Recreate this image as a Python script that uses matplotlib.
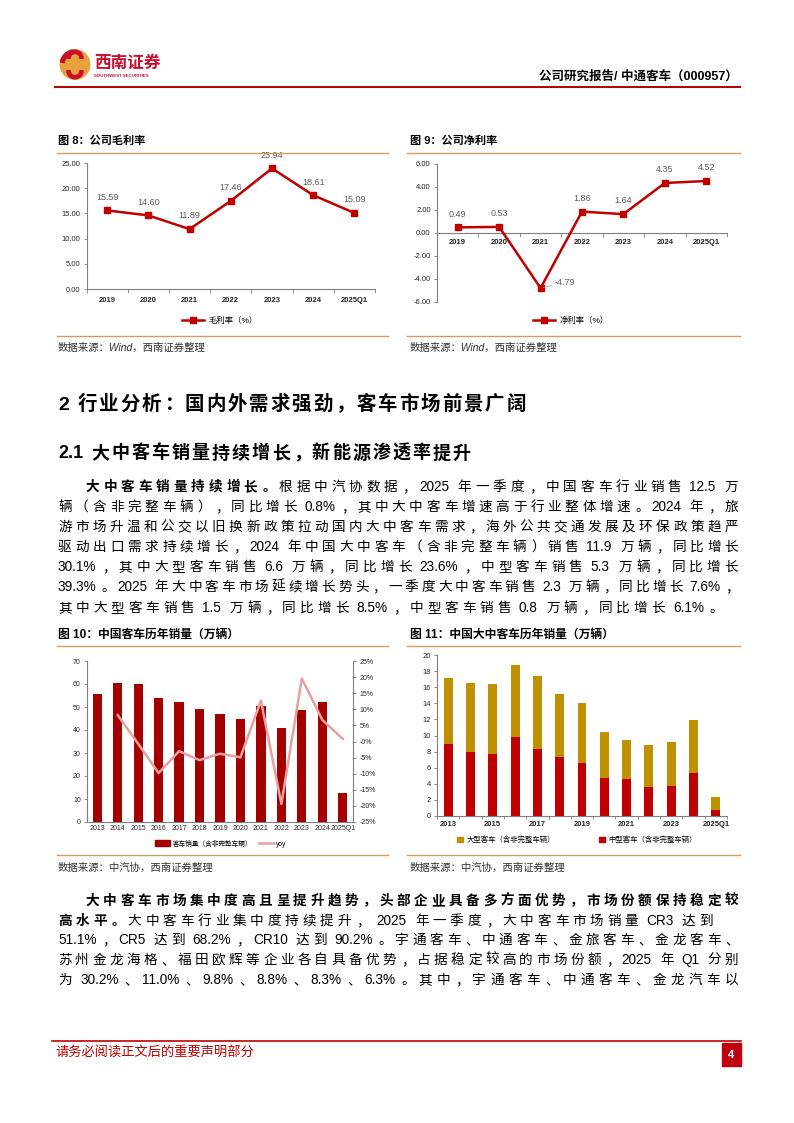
import re
import numpy as np
import matplotlib
matplotlib.use('Agg')
import matplotlib.pyplot as plt
from matplotlib.lines import Line2D
from matplotlib.patches import Rectangle, Circle, Wedge, Patch
from matplotlib.ticker import FuncFormatter

plt.rcParams['font.family'] = ['Liberation Sans', 'Noto Sans CJK SC']
plt.rcParams['axes.unicode_minus'] = False

# ---- data ----
years_a = ['2019', '2020', '2021', '2022', '2023', '2024', '2025Q1']
gross_margin = [15.59, 14.60, 11.89, 17.46, 23.94, 18.61, 15.09]
net_margin = [0.49, 0.53, -4.79, 1.86, 1.64, 4.35, 4.52]

years_b = ['2013', '2014', '2015', '2016', '2017', '2018', '2019', '2020',
           '2021', '2022', '2023', '2024', '2025Q1']
bus_sales = [55.6, 60.4, 60.0, 53.9, 52.1, 49.1, 46.9, 44.7, 50.4, 40.8, 48.6, 52.1, 12.5]
bus_yoy = [None, 0.082, -0.007, -0.098, -0.030, -0.058, -0.038, -0.049,
           0.127, -0.194, 0.196, 0.067, 0.008]
large_bus = [8.2, 8.5, 8.7, 9.0, 9.1, 7.9, 7.4, 5.7, 4.8, 5.2, 5.5, 6.6, 1.5]
mid_bus = [8.9, 8.0, 7.7, 9.8, 8.3, 7.3, 6.6, 4.7, 4.6, 3.6, 3.7, 5.3, 0.8]

RED = '#C00000'
DARKRED = '#A50000'
GOLD = '#BF9000'
PINK = '#E8A0A0'
TAN = '#C9A063'
GRAY = '#7F7F7F'

W, H = 794, 1123
fig = plt.figure(figsize=(W / 100, H / 100), dpi=100)
renderer = fig.canvas.get_renderer()


def fx(x):
    return x / W


def fy(y):
    return 1 - y / H


def hline(x0, x1, y, color, lw):
    fig.add_artist(Line2D([fx(x0), fx(x1)], [fy(y), fy(y)],
                          transform=fig.transFigure, color=color, lw=lw))


def put(x, y, s, **kw):
    kw.setdefault('va', 'center')
    return fig.text(fx(x), fy(y), s, **kw)


def add_axes(l, t, r, b):
    return fig.add_axes([fx(l), fy(b), (r - l) / W, (b - t) / H])


# justified text line, one token per CJK char
P_LEFT = '，。、：；）'
P_RIGHT = '（'


def text_line(y, x0, parts, size, x1=None, gap=None, color='#000000'):
    em = size * 100 / 72
    yb = y + 0.36 * em
    items = []
    for s, bold in parts:
        wt = 'bold' if bold else 'normal'
        for t in re.findall(r'[0-9A-Za-z.%/]+| |.', s):
            if t == ' ':
                items.append((' ', em * 0.3, wt))
            elif ord(t[0]) < 128:
                a = put(0, yb, t, fontsize=size, fontweight=wt, color=color,
                        ha='left', va='baseline')
                items.append((a, a.get_window_extent(renderer).width + em * 0.04, wt))
            else:
                items.append((t, em, wt))
    total = sum(w for _, w, _ in items)
    n_gaps = sum(1 for it, _, _ in items if not (isinstance(it, str) and it == ' ')) - 1
    if gap is None:
        gap = (x1 - x0 - total) / n_gaps
    x = x0
    for it, w, wt in items:
        kw = dict(fontsize=size, fontweight=wt, color=color, va='baseline')
        if isinstance(it, str) and it == ' ':
            x += w
            continue
        if isinstance(it, str):
            if it in P_RIGHT:
                put(x + w * 0.95, yb, it, ha='right', **kw)
            elif it in P_LEFT:
                put(x + w * 0.08, yb, it, ha='left', **kw)
            else:
                put(x + w / 2, yb, it, ha='center', **kw)
        else:
            it.set_x(fx(x))
        x += w + gap
    return gap


# ---- header ----
lax = add_axes(59, 49, 91, 80)
lax.set_xlim(-1.05, 1.05)
lax.set_ylim(-1.05, 1.05)
lax.set_aspect('equal')
lax.axis('off')
lax.add_patch(Circle((0, 0), 1, color='#E6A23C'))
lax.add_patch(Wedge((0.0, 0.42), 0.55, 0, 180, width=0.22, color='#C8102E'))
lax.add_patch(Wedge((0.0, -0.42), 0.55, 180, 360, width=0.22, color='#C8102E'))
lax.add_patch(Wedge((0, 0), 1, 100, 170, width=0.25, color='#C8102E'))
put(94, 63, '西南证券', fontsize=12, fontweight='bold', color='#C8102E', ha='left')
put(94, 76, 'SOUTHWEST SECURITIES', fontsize=3.2, fontweight='bold', color='#C8102E', ha='left')
put(738, 77, '公司研究报告/ 中通客车（000957）', fontsize=9, fontweight='bold', ha='right')
hline(55, 740, 87, '#B00000', 1.4)

# ---- captions / frames ----
put(58, 141, '图 8：公司毛利率', fontsize=8, fontweight='bold', ha='left')
put(410, 141, '图 9：公司净利率', fontsize=8, fontweight='bold', ha='left')
for y in (153, 336):
    hline(57, 388, y, TAN, 1.0)
    hline(407, 740, y, TAN, 1.0)
put(58, 348, '数据来源：Wind，西南证券整理', fontsize=7.5, style='italic', color='#333333', ha='left')
put(410, 348, '数据来源：Wind，西南证券整理', fontsize=7.5, style='italic', color='#333333', ha='left')


def style_cat(ax, labels, pad):
    n = len(labels)
    ax.set_xlim(-0.5, n - 0.5)
    for s in ('top', 'right'):
        ax.spines[s].set_visible(False)
    for s in ('left', 'bottom'):
        ax.spines[s].set_color(GRAY)
        ax.spines[s].set_linewidth(0.8)
    ax.set_xticks(np.arange(n))
    ax.set_xticklabels(labels, fontsize=5.5, fontweight='bold', color='#262626')
    ax.set_xticks(np.arange(-0.5, n, 1), minor=True)
    ax.tick_params(axis='x', which='major', length=0, pad=pad)
    ax.tick_params(axis='x', which='minor', length=3, width=0.6, color=GRAY, direction='out')
    ax.tick_params(axis='y', length=2.5, width=0.6, color=GRAY, labelsize=5.5,
                   labelcolor='#262626', pad=2)


# ---- fig 8: gross margin ----
ax1 = add_axes(86.5, 163, 375, 289)
xa = np.arange(len(years_a))
ax1.plot(xa, gross_margin, color=RED, lw=1.8, marker='s', ms=3.8, zorder=3)
for i, v in enumerate(gross_margin):
    ax1.annotate(f'{v:.2f}', (i, v), xytext=(0, 9.5), textcoords='offset points',
                 ha='center', va='center', fontsize=6.5, color='#595959')
ax1.set_ylim(0, 25)
ax1.set_yticks(np.arange(0, 26, 5))
ax1.yaxis.set_major_formatter(FuncFormatter(lambda v, p: f'{v:.2f}'))
style_cat(ax1, years_a, 6)
fig.legend(handles=[Line2D([], [], color=RED, lw=1.8, marker='s', ms=3.8)],
           labels=['毛利率（%）'], loc='center', bbox_to_anchor=(fx(220), fy(321)),
           frameon=False, fontsize=6, handlelength=2.6, handletextpad=0.5,
           borderpad=0, borderaxespad=0)

# ---- fig 9: net margin ----
ax2 = add_axes(437, 164, 727, 302)
ax2.spines['bottom'].set_position(('data', 0))
ax2.plot(xa, net_margin, color=RED, lw=1.8, marker='s', ms=3.8, zorder=3)
for i, v in enumerate(net_margin):
    if v < 0:
        ax2.annotate(f'{v:.2f}', (i, v), xytext=(10, 4), textcoords='offset points',
                     ha='left', va='center', fontsize=6.5, color='#595959',
                     arrowprops=dict(arrowstyle='-', color='#A6A6A6', lw=0.5,
                                     shrinkA=0, shrinkB=2))
    else:
        ax2.annotate(f'{v:.2f}', (i, v), xytext=(0, 9.5), textcoords='offset points',
                     ha='center', va='center', fontsize=6.5, color='#595959')
ax2.set_ylim(-6, 6)
ax2.set_yticks(np.arange(-6, 7, 2))
ax2.yaxis.set_major_formatter(FuncFormatter(lambda v, p: f'{v:.2f}'))
style_cat(ax2, years_a, 4.5)
fig.legend(handles=[Line2D([], [], color=RED, lw=1.8, marker='s', ms=3.8)],
           labels=['净利率（%）'], loc='center', bbox_to_anchor=(fx(571), fy(321)),
           frameon=False, fontsize=6, handlelength=2.6, handletextpad=0.5,
           borderpad=0, borderaxespad=0)

# ---- section text ----
text_line(403, 58, [('2 行业分析：国内外需求强劲，客车市场前景广阔', True)], 14, gap=2.0)
text_line(452, 58, [('2.1 大中客车销量持续增长，新能源渗透率提升', True)], 13, gap=2.0)

BODY = 9.8
X1 = 738
ys = [486, 506, 526, 546, 566, 586, 607]
g = text_line(ys[0], 86, [('大中客车销量持续增长。', True),
                          ('根据中汽协数据，2025 年一季度，中国客车行业销售 12.5 万', False)], BODY, x1=X1)
text_line(ys[1], 58, [('辆（含非完整车辆），同比增长 0.8%，其中大中客车增速高于行业整体增速。2024 年，旅', False)], BODY, x1=X1)
text_line(ys[2], 58, [('游市场升温和公交以旧换新政策拉动国内大中客车需求，海外公共交通发展及环保政策趋严', False)], BODY, x1=X1)
text_line(ys[3], 58, [('驱动出口需求持续增长，2024 年中国大中客车（含非完整车辆）销售 11.9 万辆，同比增长', False)], BODY, x1=X1)
text_line(ys[4], 58, [('30.1%，其中大型客车销售 6.6 万辆，同比增长 23.6%，中型客车销售 5.3 万辆，同比增长', False)], BODY, x1=X1)
text_line(ys[5], 58, [('39.3%。2025 年大中客车市场延续增长势头，一季度大中客车销售 2.3 万辆，同比增长 7.6%，', False)], BODY, x1=X1)
text_line(ys[6], 58, [('其中大型客车销售 1.5 万辆，同比增长 8.5%，中型客车销售 0.8 万辆，同比增长 6.1%。', False)], BODY, gap=g)

ys2 = [900, 920, 939, 959, 979]
text_line(ys2[0], 86, [('大中客车市场集中度高且呈提升趋势，头部企业具备多方面优势，市场份额保持稳定较', True)], BODY, x1=X1)
text_line(ys2[1], 58, [('高水平。', True),
                       ('大中客车行业集中度持续提升， 2025 年一季度，大中客车市场销量 CR3 达到', False)], BODY, x1=X1 - 25)
text_line(ys2[2], 58, [('51.1%，CR5 达到 68.2%，CR10 达到 90.2%。宇通客车、中通客车、金旅客车、金龙客车、', False)], BODY, x1=X1)
text_line(ys2[3], 58, [('苏州金龙海格、福田欧辉等企业各自具备优势，占据稳定较高的市场份额，2025 年 Q1 分别', False)], BODY, x1=X1)
text_line(ys2[4], 58, [('为 30.2%、11.0%、9.8%、8.8%、8.3%、6.3%。其中，宇通客车、中通客车、金龙汽车以', False)], BODY, x1=X1)

# ---- fig 10 / 11 captions and frames ----
put(58, 635, '图 10：中国客车历年销量（万辆）', fontsize=8.5, fontweight='bold', ha='left')
put(410, 635, '图 11：中国大中客车历年销量（万辆）', fontsize=8.5, fontweight='bold', ha='left')
for y in (646, 855):
    hline(57, 388, y, TAN, 1.0)
    hline(407, 740, y, TAN, 1.0)
put(58, 868, '数据来源：中汽协，西南证券整理', fontsize=7.5, style='italic', color='#333333', ha='left')
put(410, 868, '数据来源：中汽协，西南证券整理', fontsize=7.5, style='italic', color='#333333', ha='left')

# ---- fig 10: bus sales + yoy ----
ax3 = add_axes(87, 661, 353, 822)
xb = np.arange(len(years_b))
ax3.bar(xb, bus_sales, width=0.45, color=DARKRED, zorder=2)
ax3.set_ylim(0, 70)
ax3.set_yticks(np.arange(0, 71, 10))
style_cat(ax3, years_b, 2)
ax3.tick_params(axis='x', which='minor', length=0)
ax3.tick_params(axis='x', labelsize=5, labelcolor='#262626')
for lab in ax3.get_xticklabels():
    lab.set_fontweight('normal')
ax3.tick_params(axis='y', labelsize=5)
ax3r = ax3.twinx()
ax3r.plot(xb[1:], bus_yoy[1:], color=PINK, lw=1.8, zorder=3)
ax3r.set_ylim(-0.25, 0.25)
ax3r.set_yticks(np.arange(-0.25, 0.251, 0.05))
ax3r.yaxis.set_major_formatter(FuncFormatter(lambda v, p: f'{v * 100:.0f}%'))
ax3r.spines['top'].set_visible(False)
ax3r.spines['left'].set_visible(False)
ax3r.spines['bottom'].set_visible(False)
ax3r.spines['right'].set_color(GRAY)
ax3r.spines['right'].set_linewidth(0.8)
ax3r.tick_params(axis='y', length=2.5, width=0.6, color=GRAY, labelsize=5,
                 labelcolor='#262626', pad=2)
fig.legend(handles=[Patch(color=DARKRED), Line2D([], [], color=PINK, lw=1.8)],
           labels=['客车销量（含非完整车辆）', 'yoy'], loc='center', ncol=2,
           bbox_to_anchor=(fx(221), fy(844)), frameon=False, fontsize=4.8,
           handlelength=2.2, handleheight=0.9, handletextpad=0.4, columnspacing=1.0,
           borderpad=0, borderaxespad=0)

# ---- fig 11: large / mid bus stacked ----
ax4 = add_axes(437, 655, 727, 816)
ax4.bar(xb, mid_bus, width=0.4, color=RED, zorder=2)
ax4.bar(xb, large_bus, width=0.4, bottom=mid_bus, color=GOLD, zorder=2)
ax4.set_ylim(0, 20)
ax4.set_yticks(np.arange(0, 21, 2))
style_cat(ax4, [y if i % 2 == 0 else '' for i, y in enumerate(years_b)], 3.5)
ax4.tick_params(axis='x', which='minor', length=2)
ax4.tick_params(axis='y', labelsize=5.5)
fig.legend(handles=[Patch(color=GOLD), Patch(color=RED)],
           labels=['大型客车（含非完整车辆）', '中型客车（含非完整车辆）'], loc='center', ncol=2,
           bbox_to_anchor=(fx(577), fy(840)), frameon=False, fontsize=5.3,
           handlelength=0.8, handleheight=0.8, handletextpad=0.5, columnspacing=6.0,
           borderpad=0, borderaxespad=0)

# ---- footer ----
hline(52, 741, 1041, RED, 1.2)
put(55, 1053, '请务必阅读正文后的重要声明部分', fontsize=9.5, color=RED, ha='left')
fig.add_artist(Rectangle((fx(722), fy(1066)), 19 / W, 23 / H, transform=fig.transFigure,
                         color='#C00010'))
put(731.5, 1054.5, '4', fontsize=8, fontweight='bold', color='white', ha='center')

fig.savefig('out.png', dpi=100)
